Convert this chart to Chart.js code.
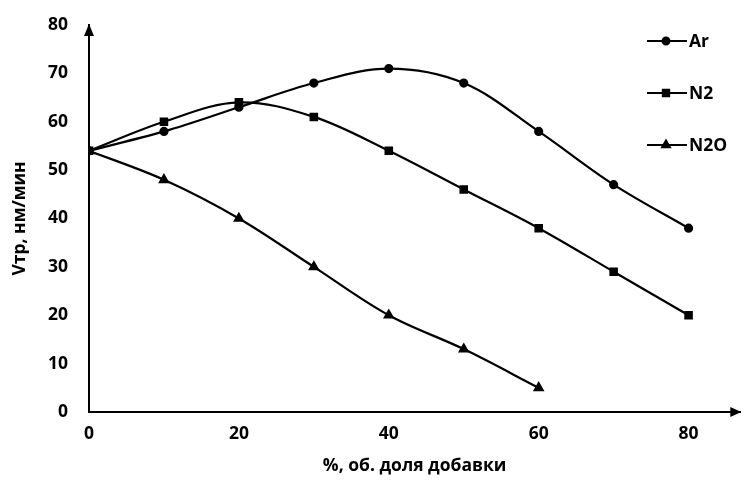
<!DOCTYPE html>
<html>
<head>
<meta charset="utf-8">
<script src="https://cdn.jsdelivr.net/npm/chart.js@4"></script>
<style>
  html, body { margin: 0; padding: 0; background: #fff; }
  #wrap { width: 747px; height: 484px; }
</style>
</head>
<body>
<div id="wrap"><canvas id="myChart" width="747" height="484"></canvas></div>
<script>
// data
var xValues = [0, 10, 20, 30, 40, 50, 60, 70, 80];
var arValues = [54, 58, 63, 68, 71, 68, 58, 47, 38];
var n2Values = [54, 60, 64, 61, 54, 46, 38, 29, 20];
var n2oValues = [54, 48, 40, 30, 20, 13, 5];
var seriesNames = ['Ar', 'N2', 'N2O'];
var xTitle = '%, об. доля добавки';
var yTitle = 'Vтр, нм/мин';

function toPoints(vals) {
  var pts = [];
  for (var i = 0; i < vals.length; i++) {
    pts.push({ x: xValues[i], y: vals[i] });
  }
  return pts;
}

var font = { family: 'Open Sans', size: 17.5, weight: 'bold' };

//----------------------------------------arrows + legend--------------------------------------//
var extras = {
  id: 'extras',
  afterDraw: function(chart) {
    var ctx = chart.ctx;
    var a = chart.chartArea;
    ctx.save();
    ctx.fillStyle = '#000';
    // y arrow
    ctx.beginPath();
    ctx.moveTo(a.left, a.top - 1);
    ctx.lineTo(a.left - 5, a.top + 11);
    ctx.lineTo(a.left + 5, a.top + 11);
    ctx.closePath();
    ctx.fill();
    // x arrow
    ctx.beginPath();
    ctx.moveTo(a.right + 1, a.bottom);
    ctx.lineTo(a.right - 10, a.bottom - 5);
    ctx.lineTo(a.right - 10, a.bottom + 5);
    ctx.closePath();
    ctx.fill();

    // legend
    var ys = [41, 93, 145];
    chart.data.datasets.forEach(function(ds, i) {
      var y = ys[i];
      ctx.strokeStyle = '#000';
      ctx.lineWidth = 2;
      ctx.beginPath();
      ctx.moveTo(647, y);
      ctx.lineTo(687, y);
      ctx.stroke();
      Chart.helpers.drawPoint(ctx, { pointStyle: ds.pointStyle, radius: ds.pointRadius, borderWidth: 1 }, 666, y);
      ctx.fillStyle = '#000';
      ctx.font = 'bold 17.5px "Open Sans"';
      ctx.textBaseline = 'middle';
      ctx.fillText(ds.label, 689, y + 1);
    });
    ctx.restore();
  }
};

function makeSet(name, vals, style, r) {
  return {
    label: name,
    data: toPoints(vals),
    borderColor: '#000',
    backgroundColor: '#000',
    borderWidth: 2.2,
    pointStyle: style,
    pointRadius: r,
    pointHoverRadius: r,
    tension: 0.35,
    fill: false
  };
}

var myChart = new Chart(document.getElementById('myChart'), {
  type: 'line',
  data: {
    datasets: [
      makeSet(seriesNames[0], arValues, 'circle', 3.5),
      makeSet(seriesNames[1], n2Values, 'rect', 4.5),
      makeSet(seriesNames[2], n2oValues, 'triangle', 4.5)
    ]
  },
  options: {
    responsive: false,
    animation: false,
    layout: { padding: { top: 25, right: 2, left: 0, bottom: 0 } },
    plugins: {
      legend: { display: false },
      tooltip: { enabled: false }
    },
    scales: {
      x: {
        type: 'linear',
        min: 0,
        max: 86.9,
        grid: { display: false, drawTicks: false },
        border: { display: true, color: '#000', width: 2 },
        ticks: { stepSize: 20, color: '#000', font: font, padding: 12, maxRotation: 0, autoSkip: false, includeBounds: false },
        afterBuildTicks: function(scale) {
          scale.ticks = scale.ticks.filter(function(t) { return t.value % 20 === 0; });
        },
        afterFit: function(scale) {
          scale.height = 72;
          scale.paddingLeft = 0;
          scale.paddingRight = 0;
        },
        title: { display: true, text: xTitle, color: '#000', font: font, padding: { top: 4, bottom: 7 } }
      },
      y: {
        min: 0,
        max: 80,
        grid: { display: false, drawTicks: false },
        border: { display: true, color: '#000', width: 2 },
        ticks: { stepSize: 10, color: '#000', font: font, padding: 21, autoSkip: false },
        afterFit: function(scale) {
          scale.width = 89;
          scale.paddingTop = 0;
          scale.paddingBottom = 0;
        },
        title: { display: true, text: yTitle, color: '#000', font: font, padding: { top: 10, bottom: 0 } }
      }
    }
  },
  plugins: [extras]
});
</script>
</body>
</html>
